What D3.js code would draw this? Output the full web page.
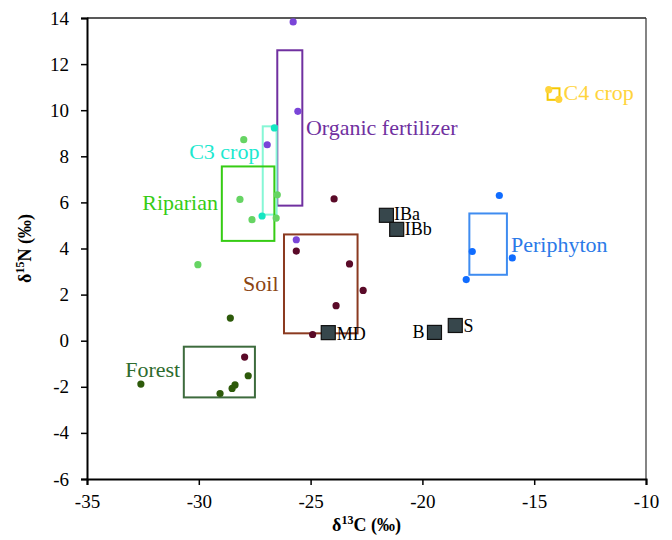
<!DOCTYPE html>
<html>
<head>
<meta charset="utf-8">
<script src="https://cdn.jsdelivr.net/npm/d3@7"></script>
<style>
  body { margin: 0; background: #fff; }
  svg text { font-family: "Liberation Serif", "Times New Roman", Tinos, "DejaVu Serif", serif; }
</style>
</head>
<body>
<svg id="chart"></svg>
<script>
// source groups: individual measurements (δ13C, δ15N)
const groupNames = ["Organic fertilizer", "C3 crop", "Riparian", "Soil", "Forest", "Periphyton", "C4 crop"]
const organicX = [-25.78, -25.57, -26.94, -25.64]
const organicY = [13.83, 9.95, 8.50, 4.38]
const c3X = [-26.62, -27.17]
const c3Y = [9.23, 5.41]
const riparianX = [-27.99, -28.16, -27.62, -26.49, -26.54, -30.04]
const riparianY = [8.72, 6.13, 5.25, 6.33, 5.32, 3.30]
const soilX = [-23.95, -25.64, -23.26, -22.65, -23.86, -24.91, -27.95]
const soilY = [6.15, 3.89, 3.33, 2.18, 1.52, 0.27, -0.71]
const forestX = [-28.59, -27.79, -28.38, -28.51, -29.05, -32.59]
const forestY = [0.98, -1.52, -1.92, -2.07, -2.29, -1.88]
const periphytonX = [-16.56, -17.77, -15.98, -18.04]
const periphytonY = [6.30, 3.87, 3.59, 2.65]
const c4X = [-14.35, -13.90]
const c4Y = [10.89, 10.47]

// ranges drawn as boxes: [xMin, xMax, yMin, yMax]
const organicBox = [-26.49, -25.37, 5.86, 12.6]
const c3Box = [-27.14, -26.52, 5.47, 9.30]
const riparianBox = [-28.97, -26.62, 4.33, 7.56]
const soilBox = [-26.19, -22.90, 0.32, 4.61]
const forestBox = [-30.67, -27.49, -2.46, -0.26]
const periphytonBox = [-17.90, -16.22, 2.86, 5.52]
const c4Box = [-14.40, -13.87, 10.45, 10.95]

// label anchors in data units [x, y]
const groupLabelPos = [[-25.21, 8.94], [-30.43, 7.90], [-32.53, 5.68], [-28.02, 2.17], [-33.29, -1.56], [-16.04, 3.84], [-13.69, 10.46]]

// river samples
const sampleNames = ["IBa", "IBb", "MD", "B", "S"]
const sampleX = [-21.61, -21.15, -24.21, -19.46, -18.53]
const sampleY = [5.44, 4.83, 0.35, 0.36, 0.66]
const sampleLabelPos = [[-21.27, 5.25], [-20.79, 4.60], [-23.83, 0.04], [-19.90, 0.13], [-18.16, 0.36]]

const xTicks = [-35, -30, -25, -20, -15, -10]
const yTicks = [-6, -4, -2, 0, 2, 4, 6, 8, 10, 12, 14]

const groups = [
  {xs: organicX, ys: organicY, box: organicBox, dot: "#7a45d8", box_c: "#7030a0", text: "#7030a0"},
  {xs: c3X, ys: c3Y, box: c3Box, dot: "#14e6c2", box_c: "#86f7d6", text: "#1de8cf"},
  {xs: riparianX, ys: riparianY, box: riparianBox, dot: "#66d463", box_c: "#36cc14", text: "#36cc14"},
  {xs: soilX, ys: soilY, box: soilBox, dot: "#5a0a28", box_c: "#8b3a20", text: "#8b4513"},
  {xs: forestX, ys: forestY, box: forestBox, dot: "#2d5a0a", box_c: "#3d6b3d", text: "#2e6b2e"},
  {xs: periphytonX, ys: periphytonY, box: periphytonBox, dot: "#106cff", box_c: "#3f8cf0", text: "#2a7ae8"},
  {xs: c4X, ys: c4Y, box: c4Box, dot: "#ffd43b", box_c: "#f5c800", text: "#ffd43b"}
].map((g, i) => Object.assign(g, {name: groupNames[i], label: groupLabelPos[i]}))

const width = 672, height = 540
const margin = {top: 18, right: 26, bottom: 61, left: 87}

const svg = d3.select("#chart")
  .attr("width", width)
  .attr("height", height)

const x = d3.scaleLinear().domain([-35, -10]).range([margin.left, width - margin.right])
const y = d3.scaleLinear().domain([-6, 14]).range([height - margin.bottom, margin.top])

// frame top / right
svg.append("line")
  .attr("x1", x(-35)).attr("x2", x(-10))
  .attr("y1", y(14)).attr("y2", y(14))
  .attr("stroke", "#595959").attr("stroke-width", 2)
svg.append("line")
  .attr("x1", x(-10)).attr("x2", x(-10))
  .attr("y1", y(14)).attr("y2", y(-6))
  .attr("stroke", "#333").attr("stroke-width", 1.2)

const xAxis = svg.append("g")
  .attr("transform", `translate(0,${y(-6)})`)
  .call(d3.axisBottom(x).tickValues(xTicks).tickSize(6).tickPadding(10).tickFormat(d3.format("d")))
const yAxis = svg.append("g")
  .attr("transform", `translate(${x(-35)},0)`)
  .call(d3.axisLeft(y).tickValues(yTicks).tickSize(6).tickPadding(12).tickFormat(d3.format("d")))

for (const ax of [xAxis, yAxis]) {
  ax.attr("font-family", null)
  ax.select(".domain").attr("stroke", "#000").attr("stroke-width", 2)
  ax.selectAll(".tick line").attr("stroke", "#000").attr("stroke-width", 1.5)
  ax.selectAll(".tick text")
    .attr("font-size", 19)
    .attr("fill", "#000")
    .text(d => d < 0 ? "-" + Math.abs(d) : d)
}

// range boxes
svg.append("g").selectAll("rect")
  .data(groups)
  .join("rect")
  .attr("x", d => x(d.box[0]))
  .attr("y", d => y(d.box[3]))
  .attr("width", d => x(d.box[1]) - x(d.box[0]))
  .attr("height", d => y(d.box[2]) - y(d.box[3]))
  .attr("fill", "none")
  .attr("stroke", d => d.box_c)
  .attr("stroke-width", 2)

// measurement dots
svg.append("g").selectAll("g")
  .data(groups)
  .join("g")
  .attr("fill", d => d.dot)
  .selectAll("circle")
  .data(d => d.xs.map((v, i) => [v, d.ys[i]]))
  .join("circle")
  .attr("cx", d => x(d[0]))
  .attr("cy", d => y(d[1]))
  .attr("r", 3.6)

// river samples
const sq = 14
svg.append("g").selectAll("rect")
  .data(sampleNames)
  .join("rect")
  .attr("x", (d, i) => x(sampleX[i]) - sq / 2)
  .attr("y", (d, i) => y(sampleY[i]) - sq / 2)
  .attr("width", sq)
  .attr("height", sq)
  .attr("fill", "#37474c")
  .attr("stroke", "#111")
  .attr("stroke-width", 1.2)

svg.append("g").selectAll("text")
  .data(sampleNames)
  .join("text")
  .attr("x", (d, i) => x(sampleLabelPos[i][0]))
  .attr("y", (d, i) => y(sampleLabelPos[i][1]))
  .attr("text-anchor", d => d === "B" ? "end" : "start")
  .attr("font-size", 18)
  .attr("fill", "#000")
  .text(d => d)

// group labels
svg.append("g").selectAll("text")
  .data(groups)
  .join("text")
  .attr("x", d => x(d.label[0]))
  .attr("y", d => y(d.label[1]))
  .attr("font-size", 22)
  .attr("fill", d => d.text)
  .text(d => d.name)

// axis titles
const xTitle = svg.append("text")
  .attr("x", (x(-35) + x(-10)) / 2)
  .attr("y", 531)
  .attr("text-anchor", "middle")
  .attr("font-size", 18)
  .attr("font-weight", "bold")
xTitle.append("tspan").text("δ")
xTitle.append("tspan").attr("font-size", 12).attr("dy", -7).text("13")
xTitle.append("tspan").attr("dy", 7).text("C (‰)")

const yTitle = svg.append("text")
  .attr("transform", `translate(31,${(y(14) + y(-6)) / 2}) rotate(-90)`)
  .attr("text-anchor", "middle")
  .attr("font-size", 18)
  .attr("font-weight", "bold")
yTitle.append("tspan").text("δ")
yTitle.append("tspan").attr("font-size", 12).attr("dy", -7).text("15")
yTitle.append("tspan").attr("dy", 7).text("N (‰)")
</script>
</body>
</html>
